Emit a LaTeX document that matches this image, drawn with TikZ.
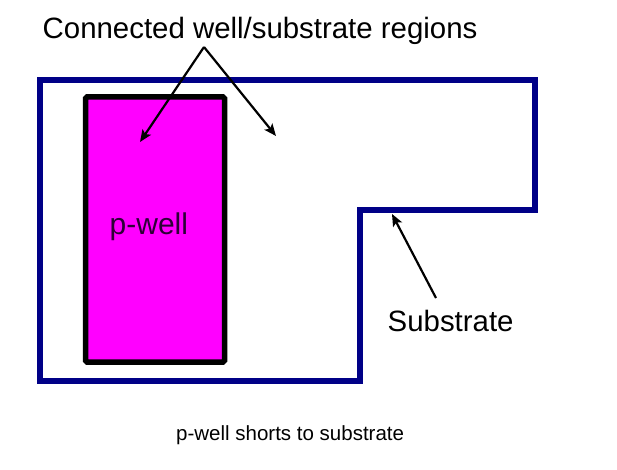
\documentclass[tikz,border=0pt]{standalone}
\usepackage{fontspec}
\setmainfont{Liberation Sans}
\usetikzlibrary{arrows.meta}
\definecolor{outline}{RGB}{0,0,135}
\definecolor{wellfill}{RGB}{255,0,255}
\definecolor{welltext}{RGB}{45,0,55}
\tikzset{
  bigtext/.style={font=\fontsize{29.4}{34}\selectfont, inner sep=0pt, anchor=base west},
  smalltext/.style={font=\fontsize{20.5}{24}\selectfont, inner sep=0pt, anchor=base west},
  region/.style={draw=outline, line width=5.5pt, line join=miter},
  wellbox/.style={draw=black, fill=wellfill, line width=5.5pt, rounded corners=1.5pt},
  pointer/.style={draw=black, line width=2.2pt, -{Stealth[length=12pt,width=10pt,inset=2.5pt]}}
}
\begin{document}
\begin{tikzpicture}[x=1pt,y=-1pt]
\useasboundingbox (0,0) rectangle (617,470);
% substrate region outline
\draw[region] (40,80) -- (535,80) -- (535,210) -- (360,210) -- (360,381) -- (40,381) -- cycle;
% p-well
\node[wellbox, minimum width=139pt, minimum height=265pt, inner sep=0pt] (well) at (155,229.5) {};
\node[bigtext, font=\fontsize{30}{34}\selectfont, text=welltext] (welllabel) at (109.5,234) {p-well};
% labels
\node[bigtext] (title) at (42.5,39) {Connected well/substrate regions};
\node[bigtext] (sub) at (387.5,331.5) {Substrate};
\node[smalltext] (caption) at (176,440) {p-well shorts to substrate};
% arrows
\coordinate (apex) at (204,47);
\coordinate (welltip) at (140,142);
\coordinate (regiontip) at (276,136);
\coordinate (subtail) at (436,298);
\coordinate (subtip) at (392,214);
\draw[pointer] (apex) -- (welltip);
\draw[pointer] (apex) -- (regiontip);
\draw[pointer] (subtail) -- (subtip);
\end{tikzpicture}
\end{document}
